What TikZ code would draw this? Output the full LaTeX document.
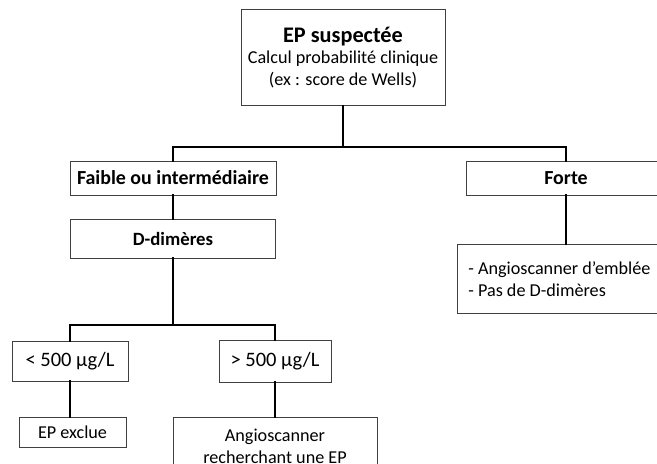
\documentclass[tikz,border=0pt]{standalone}
\usepackage{fontspec}
\setmainfont{Carlito}
\usetikzlibrary{positioning}
\tikzstyle{box}=[draw=black!75,line width=0.7pt,rectangle,inner sep=2pt,align=center,font=\fontsize{15.5}{18.7}\selectfont]
\tikzstyle{head}=[box,font=\fontsize{17}{20}\selectfont\bfseries]
\tikzstyle{link}=[line width=2.4pt,black,line join=miter,line cap=rect]

\begin{document}
\begin{tikzpicture}[x=0.03cm,y=-0.03cm]
        \useasboundingbox (0,0) rectangle (657,463);
        \clip (0,0) rectangle (657,463);

        \node[box,minimum width=204*0.03cm,minimum height=96*0.03cm] (susp) at (343,57.5)
            {{\bfseries\fontsize{19}{18.7}\selectfont EP suspectée}\\Calcul probabilité clinique\\(ex : score de Wells)};

        \node[head,minimum width=206*0.03cm,minimum height=34*0.03cm] (faible) at (173,178) {Faible ou intermédiaire};
        \node[head,minimum width=200*0.03cm,minimum height=34*0.03cm] (forte) at (566,178) {Forte};

        \node[head,font=\fontsize{16}{19}\selectfont\bfseries,minimum width=205*0.03cm,minimum height=39*0.03cm] (ddim) at (173,238.5) {D-dimères};
        \node[box,align=flush left,text width=200*0.03cm,minimum height=69*0.03cm,inner xsep=11*0.03cm,anchor=north west] (emblee) at (457,244)
            {- Angioscanner d’emblée\\- Pas de D-dimères};

        \node[box,font=\fontsize{17.5}{21}\selectfont,minimum width=116*0.03cm,minimum height=40*0.03cm] (inf) at (70,361) {< 500 µg/L};
        \node[box,font=\fontsize{17.5}{21}\selectfont,minimum width=112*0.03cm,minimum height=42*0.03cm] (sup) at (275,361) {> 500 µg/L};

        \node[box,minimum width=107*0.03cm,minimum height=30*0.03cm] (exclue) at (72.5,432) {EP exclue};
        \node[box,minimum width=204*0.03cm,minimum height=58*0.03cm,anchor=north] (angio) at (275,417)
            {Angioscanner\\recherchant une EP};

        \coordinate (S1) at (343,147);
        \coordinate (S2) at (173,325);

        \draw[link] (susp.south) -- (S1);
        \draw[link] (faible.north) |- (S1) -| (forte.north);
        \draw[link] (faible.south) -- (ddim.north);
        \draw[link] (forte.south) -- (forte.south |- emblee.north);
        \draw[link] (ddim.south) -- (S2);
        \draw[link] (inf.north) |- (S2) -| (sup.north);
        \draw[link] (inf.south) -- (inf.south |- exclue.north);
        \draw[link] (sup.south) -- (angio.north);
    \end{tikzpicture}
\end{document}
